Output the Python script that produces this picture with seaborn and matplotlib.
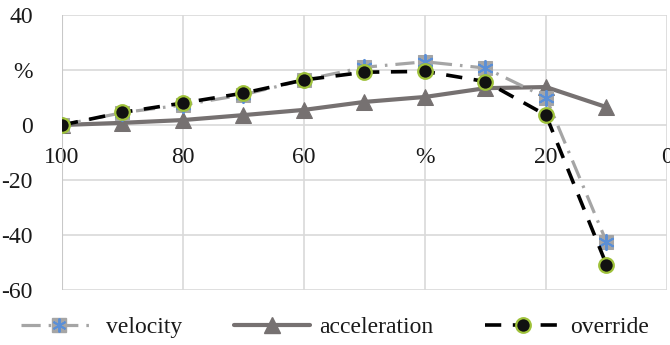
import matplotlib
matplotlib.use("Agg")
import matplotlib.pyplot as plt
import seaborn as sns
import numpy as np
import pandas as pd
from matplotlib.lines import Line2D
from matplotlib.legend_handler import HandlerTuple

x_vals = [100, 90, 80, 70, 60, 50, 40, 30, 20, 10]
velocity = [0, 4.5, 7.3, 11.0, 16.4, 21.0, 23.0, 20.7, 10.0, -42.5]
acceleration = [0, 0.8, 1.8, 3.6, 5.5, 8.4, 10.2, 13.4, 13.8, 6.5]
override = [0, 4.6, 8.0, 11.6, 16.4, 19.2, 19.5, 15.8, 3.6, -50.8]
series_names = ["velocity", "acceleration", "override"]
x_ticks = [100, 80, 60, 40, 20, 0]
x_tick_labels = ["100", "80", "60", "%", "20", "0"]
y_ticks = [-60, -40, -20, 0, 20, 40]
y_tick_labels = ["-60", "-40", "-20", "0", "%", "40"]

sns.set_theme(style="white")
plt.rcParams["font.family"] = ["Liberation Serif", "DejaVu Serif"]
plt.rcParams["font.size"] = 17

fig = plt.figure(figsize=(6.7, 3.45), dpi=100)
ax = fig.add_axes([0.0925, 0.1594, 0.9030, 0.7971])

df = pd.DataFrame({"x": x_vals, "velocity": velocity,
                   "acceleration": acceleration, "override": override})

grid_c = "#d9d9d9"
vel_c = "#a5a5a5"
acc_c = "#767171"
star_c = "#5b8fd6"

# acceleration
sns.lineplot(data=df, x="x", y="acceleration", ax=ax, color=acc_c, lw=3.0,
             marker="^", markersize=11, markerfacecolor=acc_c,
             markeredgecolor=acc_c, sort=False, zorder=3)
# velocity
sns.lineplot(data=df, x="x", y="velocity", ax=ax, color=vel_c, lw=2.3,
             dashes=False, marker="s", markersize=10.5, markerfacecolor=vel_c,
             markeredgecolor=vel_c, sort=False, zorder=4)
vel_line = ax.get_lines()[-1]
vel_line.set_dashes([6, 2.5, 0.8, 2.5])
sns.scatterplot(data=df, x="x", y="velocity", ax=ax, marker=(6, 2, 0), s=120,
                color=star_c, linewidth=1.4, zorder=5)
# override
sns.lineplot(data=df, x="x", y="override", ax=ax, color="black", lw=2.6,
             marker="o", markersize=10.5, markerfacecolor="#111111",
             markeredgecolor="#9fc23a", markeredgewidth=1.6, sort=False,
             zorder=6)
ovr_line = ax.get_lines()[-1]
ovr_line.set_dashes([4.5, 3.2])

ax.set_xlim(100, 0)
ax.set_ylim(-60, 40)
ax.set_xticks(x_ticks)
ax.set_xticklabels(x_tick_labels)
ax.set_yticks(y_ticks)
ax.set_yticklabels(y_tick_labels)
ax.set_xlabel("")
ax.set_ylabel("")
ax.grid(True, color=grid_c, lw=1.2)
ax.set_axisbelow(True)
for s in ["top", "right", "left", "bottom"]:
    ax.spines[s].set_visible(False)
ax.axvline(100, color="#c8c8c8", lw=1.5, zorder=1)
ax.tick_params(axis="both", length=0, colors="#1a1a1a", labelsize=17)
ax.tick_params(axis="y", pad=21)
ax.spines["bottom"].set_position(("data", 0))
ax.tick_params(axis="x", pad=16)
for lab in ax.get_xticklabels():
    lab.set_clip_on(False)

# legend
h_vel = (Line2D([], [], color=vel_c, lw=2.3, dashes=[6, 2.5, 0.8, 2.5],
                marker="s", markersize=10.5, markerfacecolor=vel_c, markeredgecolor=vel_c),
         Line2D([], [], ls="none", marker=(6, 2, 0), markersize=10,
                color=star_c, markeredgewidth=1.4))
h_acc = Line2D([], [], color=acc_c, lw=3.0, marker="^", markersize=11,
               markerfacecolor=acc_c, markeredgecolor=acc_c)
h_ovr = Line2D([], [], color="black", lw=2.6, dashes=[4.5, 3.2], marker="o",
               markersize=10.5, markerfacecolor="#111111",
               markeredgecolor="#9fc23a", markeredgewidth=1.6)
leg = fig.legend([h_vel, h_acc, h_ovr], series_names, loc="center",
                 bbox_to_anchor=(0.5, 0.052), ncol=3, frameon=False,
                 handlelength=3.2, handletextpad=0.4, columnspacing=2.2,
                 fontsize=17, handler_map={tuple: HandlerTuple(ndivide=1, pad=0)})
for t in leg.get_texts():
    t.set_color("#1a1a1a")

fig.savefig("out.png", dpi=100)
